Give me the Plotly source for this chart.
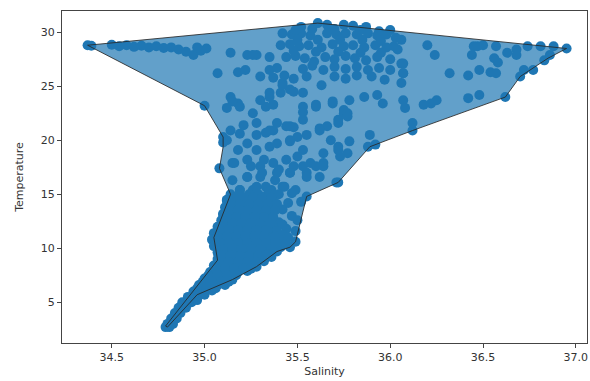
import plotly.graph_objects as go

# Observations (salinity, temperature), grouped by region of the T-S diagram
obs_upper_left = [
    (34.37, 28.8), (34.39, 28.75), (34.50, 28.85), (34.54, 28.7), (34.58, 28.8), (34.62, 28.65),
    (34.66, 28.75), (34.70, 28.6), (34.74, 28.7), (34.78, 28.55), (34.82, 28.6), (34.86, 28.4),
    (34.90, 28.2), (34.94, 27.9), (34.98, 28.3), (35.01, 28.5), (34.96, 28.6),
    (35.14, 28.1), (35.07, 26.2), (35.18, 26.3), (35.22, 26.5), (35.23, 27.9), (35.28, 27.9),
    (35.35, 27.7), (35.30, 25.9), (35.35, 26.5), (35.39, 26.7), (35.42, 25.3), (35.46, 24.7),
    (35.41, 24.4), (35.00, 23.2), (35.14, 24.0), (35.12, 23.0), (35.18, 23.4), (35.15, 23.6),
    (35.19, 23.1), (35.26, 22.5), (35.33, 23.1), (35.35, 24.0), (35.14, 20.9), (35.19, 20.6),
    (35.23, 19.7), (35.33, 20.7), (35.37, 20.9), (35.39, 21.6), (35.44, 21.3), (35.46, 20.0),
    (35.28, 19.1), (35.35, 19.4), (35.12, 20.0), (35.10, 19.8), (35.08, 17.4), (35.15, 17.9),
    (35.23, 18.2), (35.30, 17.6), (35.37, 17.9), (35.44, 18.2), (35.50, 18.5), (35.15, 16.3),
    (35.23, 16.6), (35.30, 16.6), (35.39, 17.0), (35.46, 17.0), (35.19, 15.4), (35.26, 15.4),
    (35.33, 15.7), (35.42, 15.7), (35.12, 14.5), (35.10, 13.1), (35.10, 20.3),
]

obs_upper_mid = [
    (35.52, 30.5), (35.61, 30.85), (35.66, 30.7), (35.75, 30.7), (35.80, 30.6), (35.87, 30.5), (36.00, 30.2),
    (35.42, 29.9), (35.47, 29.8), (35.52, 29.9), (35.57, 29.7), (35.66, 29.9), (35.71, 29.8),
    (35.76, 29.9), (35.82, 29.8), (35.88, 29.9), (35.93, 29.7), (35.98, 29.8), (36.03, 29.5), (36.06, 29.3),
    (35.41, 28.8), (35.46, 28.9), (35.51, 28.7), (35.56, 28.8), (35.63, 28.6), (35.69, 28.9),
    (35.75, 28.7), (35.80, 28.8), (35.86, 28.6), (35.92, 28.8), (35.98, 28.6), (36.04, 28.4),
    (35.44, 27.7), (35.49, 27.8), (35.54, 27.6), (35.59, 27.3), (35.65, 27.7), (35.70, 27.5),
    (35.76, 27.8), (35.81, 27.6), (35.87, 27.4), (35.93, 27.7), (36.00, 27.5), (36.06, 27.1),
    (35.53, 26.6), (35.58, 26.9), (35.64, 26.5), (35.70, 26.8), (35.76, 26.6), (35.82, 26.8),
    (35.88, 26.5), (35.94, 26.7), (36.00, 26.5), (36.07, 26.2),
    (35.37, 25.8), (35.43, 26.0), (35.48, 25.7), (35.55, 25.9), (35.70, 25.9), (35.76, 25.7),
    (35.82, 26.0), (35.90, 25.9), (35.97, 25.6), (36.06, 25.3),
    (35.26, 27.9), (35.42, 25.1), (35.35, 24.4), (35.48, 24.5), (35.53, 24.4), (35.30, 23.7),
    (35.63, 25.1), (35.69, 23.4), (35.78, 23.7), (35.86, 24.0), (35.93, 24.2), (35.96, 23.4),
    (36.07, 23.7), (35.60, 23.1), (35.53, 22.6), (35.75, 22.5), (35.37, 23.3),
    (35.49, 30.2), (35.58, 30.3), (35.70, 30.3), (35.84, 30.2), (35.94, 30.1),
    (35.61, 29.3), (35.73, 29.3), (35.85, 29.3), (35.95, 29.2), (35.50, 29.3),
    (35.60, 28.2), (35.72, 28.2), (35.84, 28.1), (35.95, 28.1), (35.48, 28.3),
]

obs_upper_right = [
    (36.20, 28.8), (36.24, 27.9), (36.45, 28.7), (36.50, 28.8), (36.57, 28.7), (36.63, 28.1),
    (36.68, 28.4), (36.74, 28.7), (36.81, 28.7), (36.88, 28.7), (36.95, 28.5), (36.44, 27.9),
    (36.56, 27.6), (36.58, 27.2), (36.32, 26.2), (36.42, 26.0), (36.48, 26.5), (36.54, 26.3),
    (36.57, 26.2), (36.72, 26.5), (36.77, 26.5), (36.83, 27.4), (36.86, 27.9), (36.68, 27.9),
    (36.47, 28.7), (36.70, 25.9), (36.62, 24.0), (36.48, 24.2), (36.42, 23.9), (36.25, 23.7),
    (36.22, 23.4), (36.18, 23.3), (36.08, 23.0), (36.12, 21.6), (36.12, 20.9), (35.89, 20.5),
    (35.88, 19.4), (35.92, 19.6), (35.75, 22.8), (35.77, 22.5), (35.72, 21.9), (35.66, 21.3),
    (35.62, 21.1), (35.72, 16.1), (35.68, 20.0), (35.72, 19.4), (35.77, 18.8), (35.73, 18.5),
    (35.64, 17.9), (35.60, 17.6), (35.53, 17.6), (35.55, 17.0), (35.50, 20.3), (35.48, 21.2),
    (35.53, 21.9), (35.53, 23.1), (35.60, 23.3), (35.69, 23.6), (36.07, 26.2), (36.07, 27.1),
    (36.02, 28.7),
]

obs_middle = [
    (35.21, 21.4), (35.28, 21.6), (35.28, 20.5), (35.35, 20.9), (35.46, 21.3), (35.55, 20.5),
    (35.62, 20.9), (35.72, 21.6), (35.77, 22.2), (35.18, 19.1), (35.39, 19.7), (35.46, 19.9),
    (35.53, 19.1), (35.64, 18.8), (35.72, 19.1), (35.78, 19.9), (35.16, 17.9), (35.25, 17.6),
    (35.32, 18.2), (35.40, 17.3), (35.48, 17.6), (35.57, 17.9), (35.64, 17.6), (35.23, 16.6),
    (35.31, 17.0), (35.38, 16.3), (35.46, 17.0), (35.55, 16.6), (35.62, 16.6), (35.71, 16.1),
    (35.19, 15.4), (35.28, 15.7), (35.36, 15.4), (35.43, 15.7), (35.49, 15.4), (35.55, 14.8),
]

obs_deep = [
    (35.14, 15.0), (35.19, 15.0), (35.24, 15.0), (35.29, 15.0), (35.34, 15.0), (35.40, 15.0), (35.47, 15.1),
    (35.12, 14.4), (35.17, 14.4), (35.22, 14.4), (35.27, 14.4), (35.32, 14.4), (35.37, 14.4), (35.45, 14.2), (35.52, 14.3),
    (35.11, 13.8), (35.16, 13.8), (35.21, 13.8), (35.26, 13.8), (35.31, 13.8), (35.36, 13.8), (35.42, 13.6),
    (35.10, 13.2), (35.15, 13.2), (35.20, 13.2), (35.25, 13.2), (35.30, 13.2), (35.35, 13.2), (35.47, 13.0), (35.50, 12.6),
    (35.09, 12.6), (35.14, 12.6), (35.19, 12.6), (35.24, 12.6), (35.29, 12.6), (35.34, 12.6), (35.40, 12.4),
    (35.07, 12.0), (35.12, 12.0), (35.17, 12.0), (35.22, 12.0), (35.27, 12.0), (35.32, 12.0), (35.37, 12.0), (35.44, 11.8), (35.49, 11.6),
    (35.05, 11.4), (35.10, 11.4), (35.15, 11.4), (35.20, 11.4), (35.25, 11.4), (35.30, 11.4), (35.35, 11.4), (35.42, 11.2),
    (35.04, 10.8), (35.09, 10.8), (35.14, 10.8), (35.19, 10.8), (35.24, 10.8), (35.29, 10.8), (35.34, 10.8), (35.40, 10.8), (35.49, 10.6),
    (35.05, 10.2), (35.10, 10.2), (35.15, 10.2), (35.20, 10.2), (35.25, 10.2), (35.30, 10.2), (35.35, 10.2), (35.41, 10.1), (35.46, 10.1),
    (35.07, 9.6), (35.12, 9.6), (35.17, 9.6), (35.22, 9.6), (35.27, 9.6), (35.32, 9.6), (35.39, 9.7),
    (35.07, 9.0), (35.11, 9.0), (35.16, 9.0), (35.21, 9.0), (35.26, 9.0), (35.32, 9.0), (35.36, 9.2),
    (35.05, 8.4), (35.10, 8.4), (35.15, 8.4), (35.20, 8.4), (35.25, 8.4), (35.28, 8.3),
    (35.03, 7.8), (35.08, 7.8), (35.13, 7.8), (35.18, 7.8), (35.23, 7.9),
    (35.00, 7.2), (35.05, 7.2), (35.10, 7.2), (35.15, 7.1),
    (34.97, 6.6), (35.02, 6.6), (35.07, 6.6), (35.11, 6.6),
    (34.94, 6.0), (34.99, 6.0), (35.04, 6.1),
    (34.91, 5.5), (34.96, 5.5), (35.00, 5.7),
    (34.88, 5.0), (34.93, 5.0), (34.96, 5.2),
    (34.86, 4.5), (34.90, 4.5),
    (34.84, 4.0), (34.87, 4.0),
    (34.82, 3.5), (34.85, 3.5),
    (34.80, 3.0), (34.83, 3.0),
    (34.79, 2.7), (34.81, 2.7),
    # staggered rows filling the dense core
    (35.16, 14.7), (35.21, 14.7), (35.26, 14.7), (35.31, 14.7), (35.36, 14.7),
    (35.14, 14.1), (35.19, 14.1), (35.24, 14.1), (35.29, 14.1), (35.34, 14.1), (35.39, 14.1),
    (35.13, 13.5), (35.18, 13.5), (35.23, 13.5), (35.28, 13.5), (35.33, 13.5), (35.38, 13.5),
    (35.12, 12.9), (35.17, 12.9), (35.22, 12.9), (35.27, 12.9), (35.32, 12.9), (35.37, 12.9),
    (35.10, 12.3), (35.15, 12.3), (35.20, 12.3), (35.25, 12.3), (35.30, 12.3), (35.35, 12.3), (35.42, 12.2),
    (35.08, 11.7), (35.13, 11.7), (35.18, 11.7), (35.23, 11.7), (35.28, 11.7), (35.33, 11.7), (35.39, 11.6),
    (35.07, 11.1), (35.12, 11.1), (35.17, 11.1), (35.22, 11.1), (35.27, 11.1), (35.32, 11.1), (35.38, 11.1), (35.45, 11.0),
    (35.08, 10.5), (35.13, 10.5), (35.18, 10.5), (35.23, 10.5), (35.28, 10.5), (35.33, 10.5), (35.38, 10.5), (35.44, 10.4),
    (35.10, 9.9), (35.15, 9.9), (35.20, 9.9), (35.25, 9.9), (35.30, 9.9), (35.36, 9.9),
    (35.09, 9.3), (35.14, 9.3), (35.19, 9.3), (35.24, 9.3), (35.29, 9.3), (35.34, 9.4),
    (35.08, 8.7), (35.13, 8.7), (35.18, 8.7), (35.23, 8.7), (35.28, 8.7), (35.32, 8.8),
    (35.06, 8.1), (35.11, 8.1), (35.16, 8.1), (35.21, 8.1), (35.25, 8.1),
    (35.02, 7.5), (35.07, 7.5), (35.12, 7.5), (35.17, 7.5),
    (34.99, 6.9), (35.04, 6.9), (35.09, 6.9), (35.13, 6.9),
    (34.96, 6.3), (35.01, 6.3), (35.06, 6.3),
]

# Hull vertices (salinity, temperature)
hull_salinity = [34.37, 35.61, 36.95, 36.85, 36.70, 36.62, 36.12, 35.89, 35.72, 35.55, 35.49,
                 35.46, 35.39, 35.28, 35.15, 34.96, 34.80, 34.79, 35.07, 35.05, 35.14, 35.08,
                 35.10, 35.10, 35.00, 34.37]
hull_temperature = [28.8, 30.85, 28.5, 27.6, 25.9, 24.0, 20.9, 19.4, 16.1, 14.8, 10.6,
                    10.1, 9.7, 8.3, 7.1, 5.7, 2.7, 2.8, 8.9, 11.0, 15.0, 17.4,
                    19.4, 20.3, 23.2, 28.8]

all_obs = obs_upper_left + obs_upper_mid + obs_upper_right + obs_middle + obs_deep
salinity = [p[0] for p in all_obs]
temperature = [p[1] for p in all_obs]

fig = go.Figure()
fig.add_trace(go.Scatter(
    x=salinity, y=temperature, mode="markers",
    marker=dict(size=10, color="#1f77b4", line=dict(width=0)),
    showlegend=False, hoverinfo="skip",
))
fig.add_trace(go.Scatter(
    x=hull_salinity, y=hull_temperature, mode="lines", fill="toself",
    fillcolor="rgba(31,119,180,0.7)",
    line=dict(color="rgba(40,40,40,0.85)", width=1),
    showlegend=False, hoverinfo="skip",
))

axis_common = dict(
    showgrid=False, zeroline=False, showline=True, linecolor="#444", linewidth=1,
    mirror=True, ticks="outside", ticklen=4, tickcolor="#444", automargin=False,
    tickfont=dict(family="DejaVu Sans", size=11, color="#333"),
)
fig.update_xaxes(range=[34.232, 37.06], tickvals=[34.5, 35.0, 35.5, 36.0, 36.5, 37.0],
                 ticktext=["34.5", "35.0", "35.5", "36.0", "36.5", "37.0"],
                 title=dict(text="Salinity", font=dict(family="DejaVu Sans", size=11, color="#333"), standoff=4),
                 **axis_common)
fig.update_yaxes(range=[1.23, 31.97], tickvals=[5, 10, 15, 20, 25, 30],
                 title=dict(text="Temperature", font=dict(family="DejaVu Sans", size=11, color="#333"), standoff=14),
                 **axis_common)
fig.update_layout(
    width=590, height=381,
    margin=dict(l=62, r=3, t=11, b=38),
    plot_bgcolor="white", paper_bgcolor="white",
)
fig.write_html("out.html", config={"displayModeBar": False},
               post_script="document.body.style.margin='0';document.body.style.overflow='hidden';")
